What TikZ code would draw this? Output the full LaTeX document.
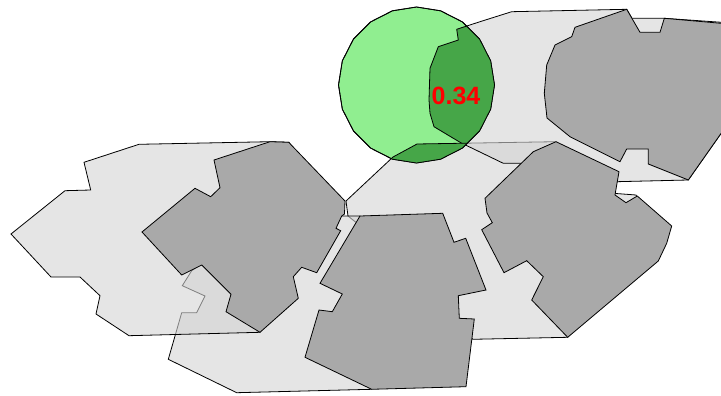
\documentclass[tikz,border=0pt]{standalone}
\usepackage{fontspec}
\newfontfamily\labfont{Liberation Sans}
\definecolor{lgray}{RGB}{211,211,211}
\definecolor{dgray}{RGB}{169,169,169}
\definecolor{lgreen}{RGB}{144,238,144}
\definecolor{dgreen}{RGB}{70,166,72}
\newcommand\mycirc{(0:78) \foreach \a in {18,36,...,342}{ -- (\a:78)} -- cycle}
\begin{document}
\begin{tikzpicture}[x=1pt,y=-1pt,
  lpoly/.style={fill=lgray,fill opacity=0.6,draw=black,line width=0.8pt},
  dpoly/.style={fill=dgray,draw=black,line width=0.8pt},
  gpoly/.style={fill=dgreen,draw=black,line width=0.8pt},
  cpoly/.style={fill=lgreen,draw=black,line width=0.8pt,shift={(416.5,85)}}]
\path[use as bounding box] (0,0) rectangle (721,396);
\clip (0,0) rectangle (721,396);
% light cells
\draw[lpoly] (346,201) -- (393,157) -- (417,144) -- (556,141.7) -- (600,180) -- (613.3,193.3) -- (636,195) -- (645,215) -- (567.7,337.3) -- (472.7,339.3) -- (440,300) -- (400,250) -- (358,224) -- (348,216) -- cycle;
\draw[lpoly] (168.3,359.3) -- (181.7,312.7) -- (196.7,312.7) -- (205,296) -- (182.3,285.7) -- (191.7,270.7) -- (250,230) -- (300,200) -- (341.7,216) -- (360,216) -- (400,300) -- (371.7,389.3) -- (236.7,392.7) -- cycle;
\draw[lpoly] (11,234) -- (65,190.7) -- (90.7,190) -- (84,162.3) -- (139,144.3) -- (270,141.7) -- (289,142.3) -- (320,190) -- (300,250) -- (280,290) -- (260,332.3) -- (129,335.7) -- (96,314) -- (100,295.7) -- (80,277) -- (51,277) -- cycle;
\draw[lpoly] (456.7,29.3) -- (480,21.7) -- (511.7,11.7) -- (626.7,9.3) -- (632,18.3) -- (664.3,18.3) -- (760,25) -- (760,78) -- (688.3,180) -- (616.7,181.7) -- (560,170) -- (523.3,163.3) -- (503.3,163.3) -- (460.7,142.7) -- (434,126.7) -- (430,113.3) -- (429,100) -- (430,68.3) -- (438.3,46.7) -- (458.3,40) -- cycle;
% dark buildings
\draw[dpoly] (142,232) -- (195,188.3) -- (210.7,196.7) -- (220,187.7) -- (214,160) -- (270,141.7) -- (288.7,142.3) -- (345,201) -- (344.5,214) -- (341.7,216) -- (336,228.3) -- (340.7,230.7) -- (316.7,272.7) -- (301.7,267.3) -- (293.3,276.7) -- (298.3,298.3) -- (260,332.3) -- (226,311.7) -- (231,294.3) -- (201.7,265) -- (181.7,275) -- cycle;
\draw[dpoly] (360,216) -- (442.7,213.3) -- (454,242.3) -- (465.7,238.3) -- (486,290) -- (458.3,295.7) -- (459.3,318.3) -- (474.3,319) -- (466,386.7) -- (371.7,389.3) -- (305,357.3) -- (319,310) -- (332.3,311.7) -- (342.3,294) -- (320,283.3) -- cycle;
\draw[dpoly] (626.7,9.3) -- (640,32.3) -- (660,32.3) -- (664.3,18.3) -- (721,23.3) -- (760,27) -- (760,78) -- (688.3,180) -- (648.3,164) -- (648.3,149) -- (626.7,149) -- (620,161.7) -- (570,136.7) -- (547,118) -- (544.3,93.3) -- (546.7,65) -- (555,45) -- (571.7,36.7) -- (575,27.3) -- cycle;
\draw[dpoly] (556,141.7) -- (533.3,151.7) -- (485,198.3) -- (487,213) -- (492.3,222.7) -- (481.7,229.7) -- (504,272.7) -- (526.7,260.7) -- (543.3,276.7) -- (531.7,300) -- (567.7,337.3) -- (658.3,261) -- (666.7,243.3) -- (671.7,226) -- (637.3,196) -- (626,202.7) -- (615,195) -- (619,171.7) -- cycle;
% circle and covered part
\draw[cpoly] \mycirc;
\begin{scope}
  \clip[shift={(416.5,85)}] \mycirc;
  \draw[gpoly] (456.7,29.3) -- (480,21.7) -- (511.7,11.7) -- (626.7,9.3) -- (632,18.3) -- (664.3,18.3) -- (760,25) -- (760,78) -- (688.3,180) -- (616.7,181.7) -- (560,170) -- (523.3,163.3) -- (503.3,163.3) -- (460.7,142.7) -- (434,126.7) -- (430,113.3) -- (429,100) -- (430,68.3) -- (438.3,46.7) -- (458.3,40) -- cycle;
  \draw[gpoly] (346,201) -- (393,157) -- (417,144) -- (556,141.7) -- (600,180) -- (613.3,193.3) -- (636,195) -- (645,215) -- (567.7,337.3) -- (472.7,339.3) -- (440,300) -- (400,250) -- (358,224) -- (348,216) -- cycle;
\end{scope}
\draw[line width=0.8pt,shift={(416.5,85)}] \mycirc;
\node[text=red,font=\labfont\bfseries\fontsize{25}{25}\selectfont,inner sep=0pt] (lbl) at (456,96) {0.34};
\end{tikzpicture}
\end{document}
